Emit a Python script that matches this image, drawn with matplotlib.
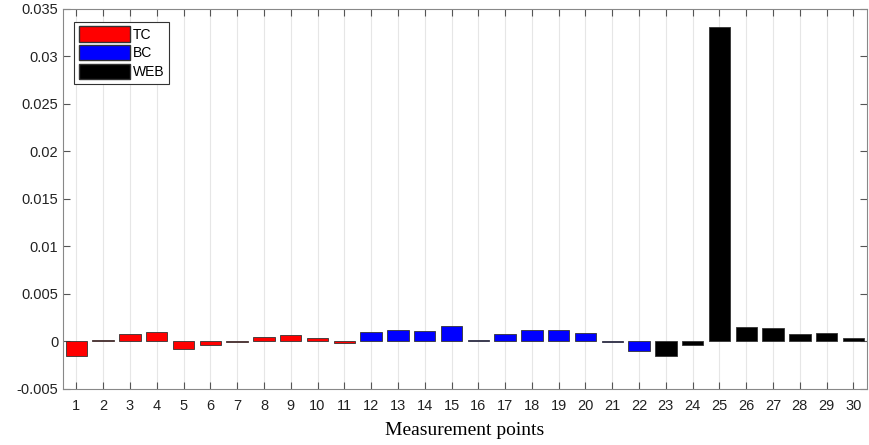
import matplotlib
matplotlib.use("Agg")
import matplotlib.pyplot as plt
from matplotlib.patches import Patch
from matplotlib.ticker import FuncFormatter

plt.rcParams['axes.unicode_minus'] = False
plt.rcParams['font.family'] = ['Liberation Sans', 'DejaVu Sans']

# measurement point values
points = list(range(1, 31))
values = [-0.00155, 0.00018, 0.00074, 0.00102, -0.00081, -0.00035, -0.00003,
          0.00049, 0.00066, 0.00039, -0.00018,
          0.00095, 0.00119, 0.00105, 0.00165, 0.0001, 0.00074, 0.00119,
          0.00119, 0.00088, -0.0001, -0.00102,
          -0.0015, -0.00035, 0.0331, 0.00147, 0.0014, 0.00074, 0.00091, 0.00032]
groups = ["TC"] * 11 + ["BC"] * 11 + ["WEB"] * 8
group_colors = {"TC": "#ff0000", "BC": "#0000ff", "WEB": "#000000"}

fig = plt.figure(figsize=(8.69, 4.45), dpi=100)
ax = fig.add_axes([0.0725, 0.126, 0.925, 0.854])

colors = [group_colors[g] for g in groups]
ax.bar(points, values, width=0.8, color=colors, edgecolor="#333333", linewidth=0.6, zorder=3)

ax.set_xlim(0.5, 30.5)
ax.set_ylim(-0.005, 0.035)
ax.set_xticks(points)
ax.set_yticks([-0.005, 0, 0.005, 0.01, 0.015, 0.02, 0.025, 0.03, 0.035])
ax.yaxis.set_major_formatter(FuncFormatter(lambda v, p: "%g" % round(v, 4)))
ax.grid(axis="x", color="#e6e6e6", linewidth=0.8, zorder=0)
ax.tick_params(direction="in", top=True, right=True, length=5, color="#555555",
               labelsize=10.5, labelcolor="#222222")
ax.tick_params(axis="x", pad=7)
for s in ax.spines.values():
    s.set_color("#888888")
    s.set_linewidth(0.8)

ax.set_xlabel("Measurement points", family="Liberation Serif", fontsize=14, labelpad=7)

handles = [Patch(facecolor=group_colors[g], edgecolor="#333333", label=g) for g in ["TC", "BC", "WEB"]]
leg = ax.legend(handles=handles, loc="upper left", bbox_to_anchor=(0.005, 0.985),
                handlelength=3.7, handleheight=1.3, handletextpad=0.2, labelspacing=0.25,
                fancybox=False, fontsize=10, borderpad=0.35, framealpha=1)
leg.get_frame().set_edgecolor("#333333")
leg.get_frame().set_linewidth(0.8)

fig.savefig("out.png", dpi=100)
